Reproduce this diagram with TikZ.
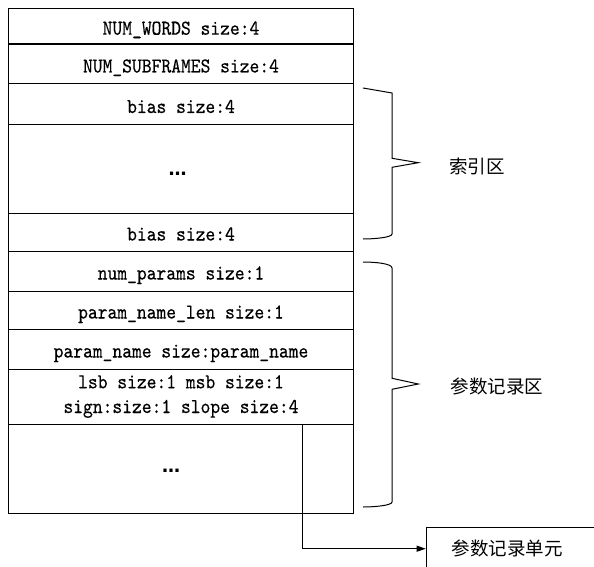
\documentclass[tikz,border=0pt]{standalone}
\usepackage{fontspec}
\newfontfamily\cjk{Noto Sans CJK SC}
\newfontfamily\dotf{DejaVu Sans Bold}
\newfontfamily\monof[FakeStretch=0.88,FakeBold=0.4]{lmmono10-regular.otf}
\usetikzlibrary{arrows.meta,positioning}
\tikzset{
  row/.style={draw, line width=1pt, minimum width=344.5pt, inner sep=0pt, outer sep=0pt,
    font=\monof\fontsize{21.2}{24.7}\selectfont, align=center, text height=18pt, text depth=1pt},
  dots/.style={font=\dotf\fontsize{18}{18}\selectfont, inner sep=0pt},
  zone/.style={font=\cjk\fontsize{18.5}{20}\selectfont, inner sep=0pt},
  brace/.style={line width=1pt},
  conn/.style={line width=1pt, -{Triangle[length=9pt,width=6pt]}}
}
\begin{document}
\begin{tikzpicture}[x=1pt,y=-1pt]
\useasboundingbox (0,0) rectangle (594,567);
\clip (0,0) rectangle (594,567);
% rows
\node[row, minimum height=35.7pt] (r1) at (181,26.2) {NUM\_WORDS size:4};
\node[row, minimum height=40pt] (r2) at (181,64) {NUM\_SUBFRAMES size:4};
\node[row, minimum height=41pt] (r3) at (181,104.5) {bias size:4};
\node[row, minimum height=88pt] (r4) at (181,169) {};
\node[dots] (d1) at (177.5,174) {…};
\node[row, minimum height=38pt] (r5) at (181,232) {bias size:4};
\node[row, minimum height=40pt] (r6) at (181,271) {num\_params size:1};
\node[row, minimum height=38pt] (r7) at (181,310) {param\_name\_len size:1};
\node[row, minimum height=40pt] (r8) at (181,349) {param\_name size:param\_name};
\node[row, minimum height=55pt, text height=35pt, text depth=2pt] (r9) at (181,396.5) {lsb size:1 msb size:1\\sign:size:1 slope size:4};
\node[row, minimum height=89pt] (r10) at (181,468.5) {};
\node[dots] (d2) at (171,470.3) {…};
% braces
\draw[brace] (363,88) -- (392,93) -- (392,158.3) -- (418.3,162.7) -- (392,167.3) -- (392,234)
  .. controls (392,237.5) and (374,239) .. (363,239);
\draw[brace] (363,262) .. controls (375,262) and (392,263.5) .. (392,268) -- (392,378.3)
  -- (418.3,384) -- (392,389.3) -- (392,502) .. controls (392,505.5) and (374,507) .. (363,507);
\node[zone] (idx) at (477,166) {索引区};
\node[zone] (rec) at (497,386) {参数记录区};
% unit box
\node[draw, line width=1pt, minimum width=200pt, minimum height=43pt, inner sep=0pt, anchor=north west] (unit) at (425.7,526.7) {};
\node[zone] (unitlbl) at (507,548) {参数记录单元};
\coordinate (src) at (302.7,424);
\draw[conn] (src) |- (unit.west);
\end{tikzpicture}
\end{document}
